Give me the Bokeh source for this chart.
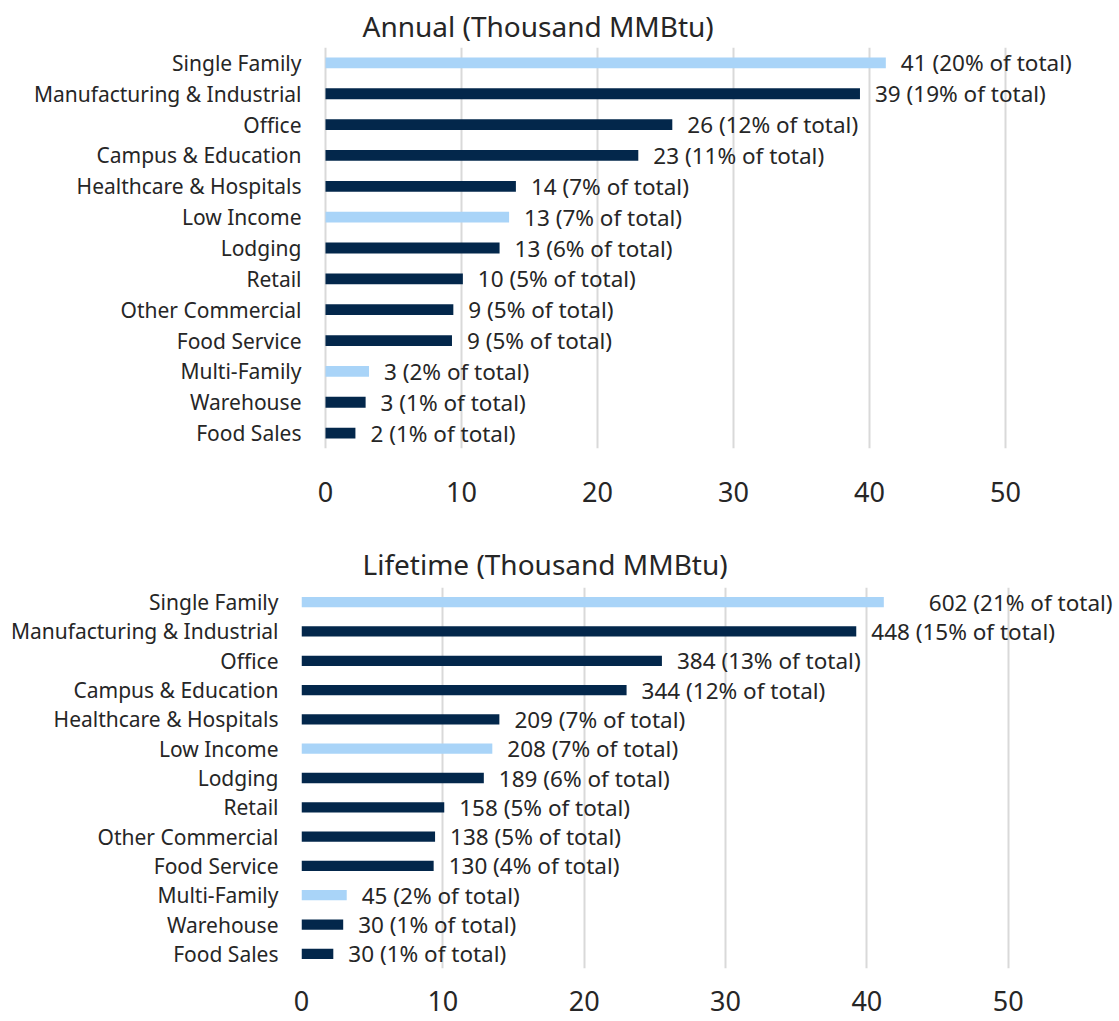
from bokeh.plotting import figure
from bokeh.layouts import column
from bokeh.models import Range1d, FactorRange, FixedTicker, ColumnDataSource
from bokeh.core.properties import value
from bokeh.embed import file_html
from bokeh.resources import INLINE

# ---------------- data ----------------
categories = ["Single Family", "Manufacturing & Industrial", "Office", "Campus & Education",
              "Healthcare & Hospitals", "Low Income", "Lodging", "Retail", "Other Commercial",
              "Food Service", "Multi-Family", "Warehouse", "Food Sales"]
residential = [True, False, False, False, False, True, False, False, False, False, True, False, False]

annual_values = [41.2, 39.3, 25.5, 23.0, 14.0, 13.5, 12.8, 10.1, 9.4, 9.3, 3.2, 2.95, 2.2]
annual_labels = [41, 39, 26, 23, 14, 13, 13, 10, 9, 9, 3, 3, 2]
annual_pct = [20, 19, 12, 11, 7, 7, 6, 5, 5, 5, 2, 1, 1]

lifetime_bar_values = [41.2, 39.25, 25.5, 23.0, 14.0, 13.5, 12.9, 10.1, 9.45, 9.35, 3.2, 2.95, 2.25]
lifetime_labels = [602, 448, 384, 344, 209, 208, 189, 158, 138, 130, 45, 30, 30]
lifetime_pct = [21, 15, 13, 12, 7, 7, 6, 5, 5, 4, 2, 1, 1]

x_ticks = [0, 10, 20, 30, 40, 50]

# ---------------- style ----------------
LIGHT = "#A9D4F8"
DARK = "#03274B"
TEXT = "#262626"
GRID = "#D9D9D9"
FONT = "Noto Sans"
WIDTH = 1119
FRAME_LEFT = 301


def make_panel(title, bar_values, labels, pcts, label_pad, height, border_top,
               border_bottom, zero_px, px_per_unit, title_offset, title_standoff,
               tick_standoff, cat_standoff):
    frame_w = WIDTH - FRAME_LEFT
    x_start = -(zero_px - FRAME_LEFT) / px_per_unit
    p = figure(width=WIDTH, height=height, output_backend="svg", toolbar_location=None,
               y_range=FactorRange(factors=list(reversed(categories)), range_padding=0),
               x_range=Range1d(x_start, x_start + frame_w / px_per_unit),
               min_border_left=FRAME_LEFT, min_border_right=0,
               min_border_top=border_top, min_border_bottom=border_bottom,
               title=title)
    p.outline_line_color = None
    p.background_fill_color = "white"
    p.border_fill_color = "white"

    p.title.align = "left"
    p.title.offset = title_offset
    p.title.standoff = title_standoff
    p.title.text_font = FONT
    p.title.text_font_size = "28px"
    p.title.text_font_style = "normal"
    p.title.text_color = TEXT

    src = ColumnDataSource(dict(
        cat=categories,
        val=bar_values,
        color=[LIGHT if r else DARK for r in residential],
        label=[f"{v} ({pc}% of total)" for v, pc in zip(labels, pcts)],
        pad=label_pad,
    ))
    p.hbar(y="cat", left=0, right="val", height=0.35, fill_color="color",
           line_color=None, source=src)
    p.text(x="val", y="cat", text="label", x_offset="pad", text_align="left",
           text_baseline="middle", text_font=value(FONT), text_font_size=value("22.5px"),
           text_color=TEXT, source=src)

    p.xaxis.ticker = FixedTicker(ticks=x_ticks)
    p.xgrid.ticker = FixedTicker(ticks=x_ticks)
    p.xgrid.grid_line_color = GRID
    p.xgrid.grid_line_width = 2
    p.ygrid.grid_line_color = None

    for ax in (p.xaxis, p.yaxis):
        ax.axis_line_color = None
        ax.major_tick_line_color = None
        ax.minor_tick_line_color = None
        ax.major_tick_out = 0
        ax.major_tick_in = 0
        ax.major_label_text_font = FONT
        ax.major_label_text_color = TEXT
    p.xaxis.major_label_text_font_size = "27px"
    p.xaxis.major_label_standoff = tick_standoff
    p.yaxis.major_label_text_font_size = "21px"
    p.yaxis.major_label_standoff = cat_standoff
    return p


H1 = 528
H2 = 1021 - H1

p1 = make_panel("Annual (Thousand MMBtu)", annual_values, annual_labels, annual_pct,
                [15] * len(categories), H1, 47, H1 - 448, 325, 13.6, 61, 6, 33, 0)

pad2 = [15] * len(categories)
pad2[0] = 45
p2 = make_panel("Lifetime (Thousand MMBtu)", lifetime_bar_values, lifetime_labels, lifetime_pct,
                pad2, H2, 587 - H1, 1021 - 968, 301, 14.134, 61, 9, 22, 23)

layout = column(p1, p2, spacing=0)
open("out.html", "w").write(file_html(layout, INLINE))
